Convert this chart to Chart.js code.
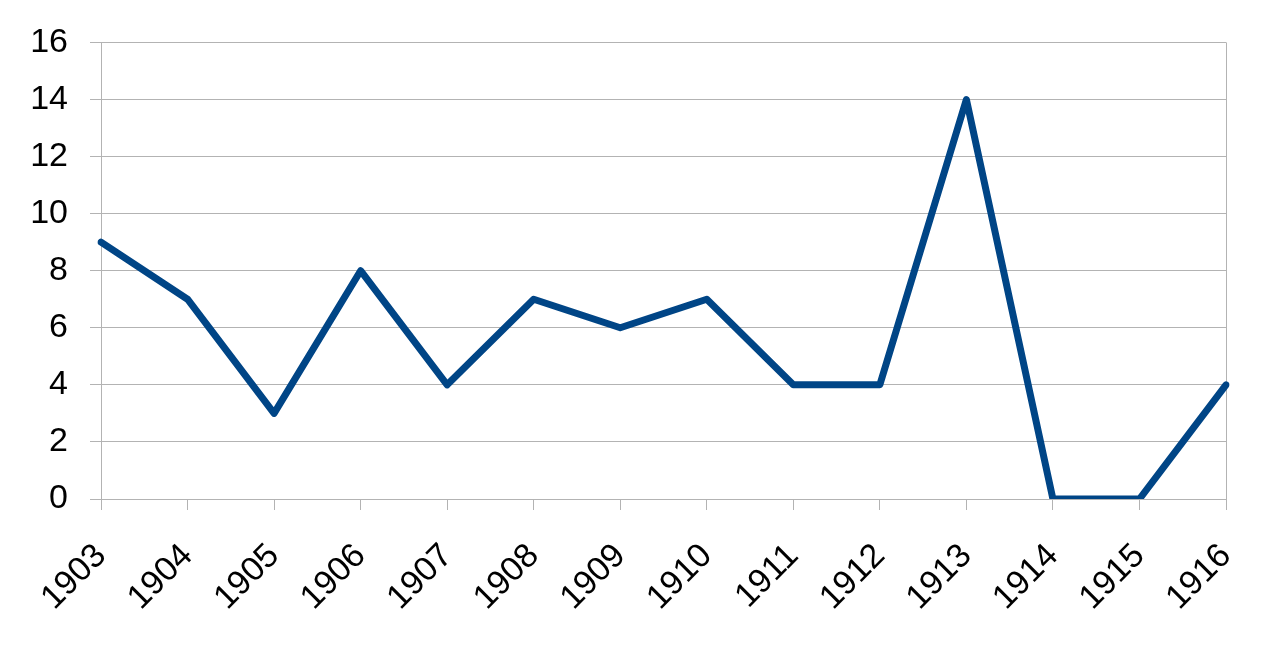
<!DOCTYPE html>
<html>
<head>
<meta charset="utf-8">
<script src="https://cdn.jsdelivr.net/npm/chart.js@4"></script>
<style>
  html, body { margin: 0; padding: 0; background: #fff; }
  #wrap { width: 1275px; height: 651px; }
</style>
</head>
<body>
<div id="wrap"><canvas id="chart"></canvas></div>
<script>
const years = ['1903', '1904', '1905', '1906', '1907', '1908', '1909', '1910', '1911', '1912', '1913', '1914', '1915', '1916'];
const counts = [9, 7, 3, 8, 4, 7, 6, 7, 4, 4, 14, 0, 0, 4];
const yTicks = [0, 2, 4, 6, 8, 10, 12, 14, 16];

const gridGray = '#b3b3b3';
const lineBlue = '#004586';
const font = { family: "'Liberation Sans', Arial, sans-serif", size: 34 };

const ctx = document.getElementById('chart').getContext('2d');
const chart = new Chart(ctx, {
  type: 'line',
  data: {
    labels: years,
    datasets: [{
      data: counts,
      borderColor: lineBlue,
      borderWidth: 7,
      pointRadius: 0,
      tension: 0,
      borderJoinStyle: 'round',
      borderCapStyle: 'round',
      fill: false
    }]
  },
  options: {
    responsive: true,
    maintainAspectRatio: false,
    animation: false,
    layout: { padding: { top: 41, right: 49, left: 0, bottom: 0 } },
    plugins: { legend: { display: false }, tooltip: { enabled: false } },
    scales: {
      x: {
        offset: false,
        grid: {
          color: (c) => (c.index === 0 || c.index === years.length - 1) ? gridGray : 'rgba(0,0,0,0)',
          tickColor: gridGray,
          tickLength: 11,
          lineWidth: 1
        },
        border: { color: gridGray },
        ticks: {
          color: '#000',
          font: font,
          autoSkip: false,
          minRotation: 45,
          maxRotation: 45,
          padding: 26
        },
        afterFit: (scale) => {
          scale.height = 152;
          scale.paddingLeft = 0;
          scale.paddingRight = 0;
        }
      },
      y: {
        min: 0,
        max: 16,
        grid: { color: gridGray, tickColor: gridGray, tickLength: 11, lineWidth: 1 },
        border: { color: gridGray },
        afterBuildTicks: (scale) => { scale.ticks = yTicks.map(v => ({ value: v })); },
        ticks: { color: '#000', font: font, padding: 22 },
        afterFit: (scale) => { scale.width = 101; }
      }
    }
  }
});
</script>
</body>
</html>
